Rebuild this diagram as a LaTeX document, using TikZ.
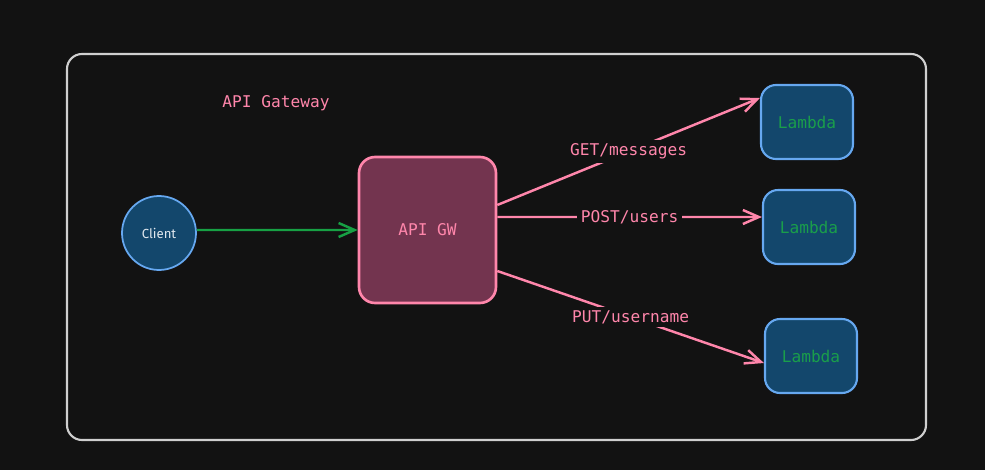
\documentclass[tikz,border=0pt]{standalone}
\usepackage{fontspec}
\setmonofont{DejaVu Sans Mono}
\newfontfamily\clientfont{Fira Sans}
\usetikzlibrary{arrows.meta}
\definecolor{bg}{HTML}{121212}
\definecolor{frame}{HTML}{CFCFCF}
\definecolor{pinkline}{HTML}{FF86AB}
\definecolor{gwfill}{HTML}{73344F}
\definecolor{bluefill}{HTML}{13476C}
\definecolor{blueline}{HTML}{66A8F0}
\definecolor{lambdatext}{HTML}{1A9E4B}
\definecolor{greenline}{HTML}{17A044}
\definecolor{clienttext}{HTML}{DFE7EE}
\begin{document}
\begin{tikzpicture}
[x=0.02cm, y=-0.02cm,
 nodes={font=\ttfamily\fontsize{9.2}{11}\selectfont, inner sep=1pt},
 lambda/.style={draw=blueline, fill=bluefill, text=lambdatext, line width=1.2pt,
   rounded corners=0.3cm, minimum width=1.84cm, minimum height=1.48cm},
 label/.style={fill=bg, text=pinkline, inner sep=2pt},
 >={Straight Barb[length=0.32cm, width=0.28cm, line width=1.4pt]}]
\fill[bg] (0,0) rectangle (985,470);
\draw[frame, line width=1.2pt, rounded corners=0.3cm] (67,54) rectangle (926,440);

\node (Title) at (276,103) [text=pinkline] {API Gateway};
\node (Client) at (159,233) [circle, draw=blueline, fill=bluefill, line width=1pt,
  minimum size=1.48cm, text=clienttext, font=\clientfont\fontsize{7.5}{9}\selectfont] {Client};
\node (GW) at (427.5,230) [draw=pinkline, fill=gwfill, text=pinkline, line width=1.5pt,
  rounded corners=0.32cm, minimum width=2.74cm, minimum height=2.92cm] {API GW};
\node (LambdaA) at (807,122) [lambda] {Lambda};
\node (LambdaB) at (809,227) [lambda] {Lambda};
\node (LambdaC) at (811,356) [lambda] {Lambda};

\draw[->, greenline, line width=1.4pt] ([yshift=0.06cm]Client.east) -- (GW.west);
\draw[->, pinkline, line width=1.4pt] ([yshift=0.5cm]GW.east) -- ([yshift=0.48cm]LambdaA.west)
  node[label, pos=0.5] {GET/messages};
\draw[->, pinkline, line width=1.4pt] ([yshift=0.26cm]GW.east) -- ([yshift=0.2cm]LambdaB.west)
  node[label, pos=0.5] {POST/users};
\draw[->, pinkline, line width=1.4pt] ([yshift=-0.82cm]GW.east) -- ([yshift=-0.14cm]LambdaC.west)
  node[label, pos=0.5] {PUT/username};
\end{tikzpicture}
\end{document}
